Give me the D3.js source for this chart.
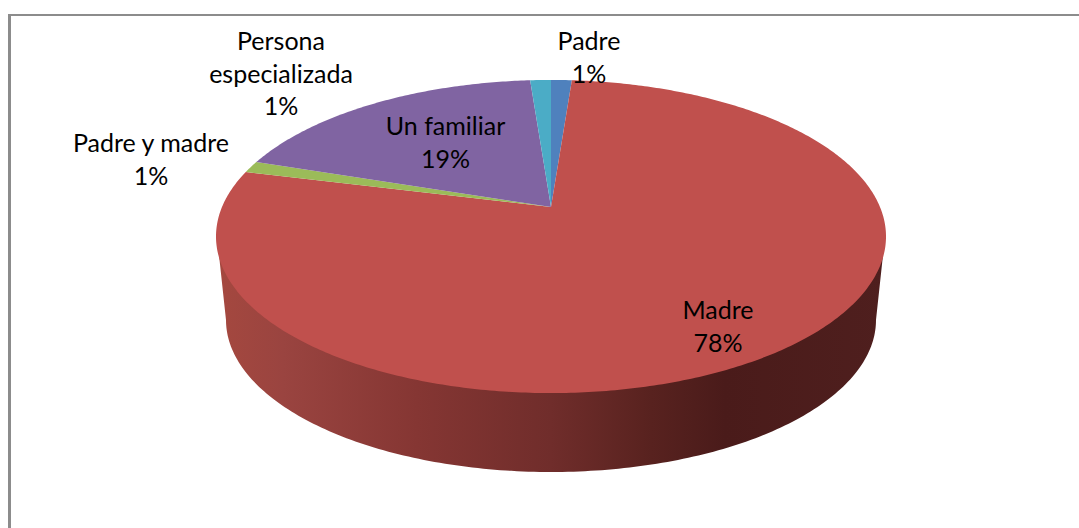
<!DOCTYPE html>
<html><head><meta charset="utf-8">
<script src="https://cdn.jsdelivr.net/npm/d3@7"></script>
<style>html,body{margin:0;padding:0;background:#fff}svg{display:block}</style></head>
<body><div id="chart"></div>
<script>
const categories = ["Padre","Madre","Padre y madre","Un familiar","Persona especializada"];
const shares = [1.2,77.7,1.2,18.7,1.2];
const percentLabels = ["1%","78%","1%","19%","1%"];
const colors = ["#4F81BD","#C0504D","#9BBB59","#8064A2","#4BACC6"];
const labelLines = [["Padre"],["Madre"],["Padre y madre"],["Un familiar"],["Persona","especializada"]];
const labelAnchors = [[589,50],[718,319],[151,152],[445.5,135],[281,50]];

const W=1079,H=528;
const svg=d3.select("#chart").append("svg").attr("width",W).attr("height",H);
svg.append("rect").attr("width",W).attr("height",H).attr("fill","#fff");

const defs=svg.append("defs");
const grad=defs.append("linearGradient").attr("id","side").attr("gradientUnits","userSpaceOnUse")
  .attr("x1",216).attr("x2",886).attr("y1",0).attr("y2",0);
[[0,"#A5483F"],[0.1,"#9A4440"],[0.3,"#853633"],[0.5,"#702D2B"],[0.65,"#58221F"],[0.76,"#4A1B1A"],[1,"#4F1F1E"]]
 .forEach(s=>grad.append("stop").attr("offset",s[0]).attr("stop-color",s[1]));

// Projective tilt of the pie: far edge is compressed, so the apex sits above the ellipse centre.
const apex=[551,207],k=0.1885,rxP=329,ryP=151;
const proj=a=>{const u=Math.sin(a),v=Math.cos(a),w=1+k*v;return [apex[0]+rxP*u/w,apex[1]-ryP*v/w];};
const arcPts=(a0,a1)=>{const n=Math.max(4,Math.ceil((a1-a0)*90));return d3.range(0,n+1).map(i=>proj(a0+(a1-a0)*i/n));};
const line=d3.line();

// side wall: lower half of the top ellipse (pulled slightly under the top face) and of the smaller bottom ellipse
const ex=[551,236.5],erx=334,ery=152,bc=[551,320],brx=325,bry=152;
const sideAngles=d3.range(0,180.5,1).map(d=>d*Math.PI/180);
const sidePts=[...sideAngles.map(t=>[ex[0]-erx*Math.cos(t),ex[1]+ery*Math.sin(t)]),
  ...sideAngles.map(t=>[bc[0]+brx*Math.cos(t),bc[1]+bry*Math.sin(t)])];
svg.append("path").attr("d",line(sidePts)+"Z").attr("fill","url(#side)");

const pie=d3.pie().sort(null).value(d=>d)(shares);
svg.append("g").selectAll("path").data(pie).join("path")
  .attr("d",d=>line([apex,...arcPts(d.startAngle,d.endAngle)])+"Z")
  .attr("fill",(d,i)=>colors[i]);

// frame
svg.append("rect").attr("x",8).attr("y",14).attr("width",W-8).attr("height",2).attr("fill","#8c8c8c");
svg.append("rect").attr("x",8).attr("y",14).attr("width",3).attr("height",H-14).attr("fill","#8c8c8c");

// labels
const lh=32.5;
const g=svg.append("g").attr("font-family","Lato, 'Open Sans', sans-serif").attr("font-size",25).attr("fill","#000").attr("text-anchor","middle");
categories.forEach((c,i)=>{
  const [x,y]=labelAnchors[i];
  const t=g.append("text").attr("x",x).attr("y",y);
  labelLines[i].forEach((l,j)=>t.append("tspan").attr("x",x).attr("y",y+j*lh).text(l));
  t.append("tspan").attr("x",x).attr("y",y+labelLines[i].length*lh).text(percentLabels[i]);
});
</script></body></html>
